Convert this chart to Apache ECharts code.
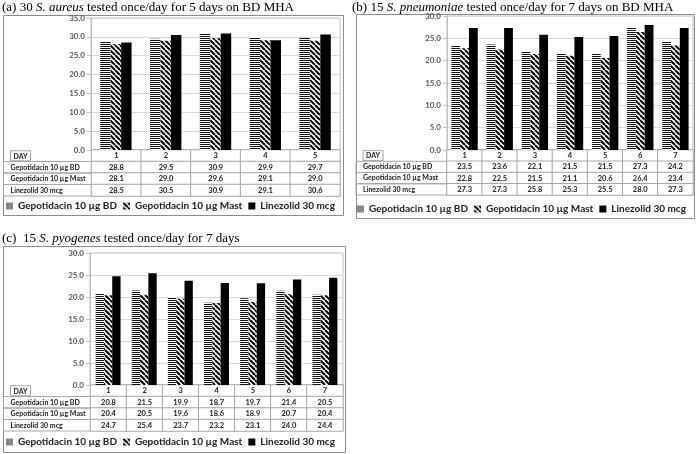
<!DOCTYPE html>
<html><head><meta charset="utf-8">
<script src="https://cdn.jsdelivr.net/npm/echarts@6/dist/echarts.min.js"></script>
<style>html,body{margin:0;padding:0;background:#fff}#c{width:696px;height:454px}</style>
</head><body><div id="c"></div>
<script>
// ---- data ----
const rowNames = ['DAY', 'Gepotidacin 10 µg BD', 'Gepotidacin 10 µg Mast', 'Linezolid 30 mcg'];
const seriesNames = ['Gepotidacin 10 µg BD', 'Gepotidacin 10 µg Mast', 'Linezolid 30 mcg'];

const daysA = ['1', '2', '3', '4', '5'];
const bdA = [28.8, 29.5, 30.9, 29.9, 29.7];
const mastA = [28.1, 29.0, 29.6, 29.1, 29.0];
const linA = [28.5, 30.5, 30.9, 29.1, 30.6];
const yMaxA = 35;

const daysB = ['1', '2', '3', '4', '5', '6', '7'];
const bdB = [23.5, 23.6, 22.1, 21.5, 21.5, 27.3, 24.2];
const mastB = [22.8, 22.5, 21.5, 21.1, 20.6, 26.4, 23.4];
const linB = [27.3, 27.3, 25.8, 25.3, 25.5, 28.0, 27.3];
const yMaxB = 30;

const daysC = ['1', '2', '3', '4', '5', '6', '7'];
const bdC = [20.8, 21.5, 19.9, 18.7, 19.7, 21.4, 20.5];
const mastC = [20.4, 20.5, 19.6, 18.6, 18.9, 20.7, 20.4];
const linC = [24.7, 25.4, 23.7, 23.2, 23.1, 24.0, 24.4];
const yMaxC = 30;

const yInterval = 5;

// ---- patterns ----
function stripeH() {
  const c = document.createElement('canvas'); c.width = 4; c.height = 2;
  const x = c.getContext('2d');
  x.fillStyle = '#fff'; x.fillRect(0, 0, 4, 2);
  x.fillStyle = '#111'; x.fillRect(0, 0, 4, 1);
  return c;
}
function stripeD() {
  const s = 5;
  const c = document.createElement('canvas'); c.width = s; c.height = s;
  const x = c.getContext('2d');
  x.fillStyle = '#fff'; x.fillRect(0, 0, s, s);
  x.strokeStyle = '#000'; x.lineWidth = 2;
  for (const o of [-s, 0, s]) { x.beginPath(); x.moveTo(o, 0); x.lineTo(o + s, s); x.stroke(); }
  return c;
}
const fills = [
  { image: stripeH(), repeat: 'repeat' },
  { image: stripeD(), repeat: 'repeat' },
  '#000'
];

const SANS = 'Lato';
const SERIF = 'Liberation Serif';
const GRID_C = '#bfbfbf';
const CELL_C = '#a6a6a6';

const panels = [
  { days: daysA, vals: [bdA, mastA, linA], max: yMaxA, x0: 3, x1: 343, y0: 15, y1: 215,
    gl: 91, gr: 340, gt: 18, g0: 150, tb: 196, barW: '21%', legTop: 201, legLeft: 6,
    title: '(a) 30 {i|S. aureus} tested once/day for 5 days on BD MHA', tLeft: 2, tTop: 1 },
  { days: daysB, vals: [bdB, mastB, linB], max: yMaxB, x0: 356, x1: 694, y0: 14, y1: 218,
    gl: 447, gr: 693, gt: 16, g0: 150, tb: 195, barW: '25%', legTop: 204, legLeft: 357,
    title: '(b) 15 {i|S. pneumoniae} tested once/day for 7 days on BD MHA', tLeft: 352, tTop: 1 },
  { days: daysC, vals: [bdC, mastC, linC], max: yMaxC, x0: 3, x1: 345, y0: 246, y1: 452,
    gl: 90, gr: 343, gt: 253, g0: 385, tb: 431, barW: '23%', legTop: 437, legLeft: 6,
    title: '(c)  15 {i|S. pyogenes} tested once/day for 7 days', tLeft: 2, tTop: 232 }
];

const option = {
  backgroundColor: '#fff',
  animation: false,
  title: [], grid: [], xAxis: [], yAxis: [], series: [], legend: [], graphic: []
};

panels.forEach((p, pi) => {
  option.title.push({
    text: p.title, left: p.tLeft, top: p.tTop, padding: 0,
    textStyle: { fontFamily: SERIF, fontSize: 13, fontWeight: 'normal', color: '#000',
      rich: { i: { fontFamily: SERIF, fontSize: 13, fontStyle: 'italic', color: '#000' } } }
  });
  option.graphic.push({
    type: 'rect', shape: { x: p.x0 + 0.5, y: p.y0 + 0.5, width: p.x1 - p.x0, height: p.y1 - p.y0 },
    style: { fill: 'none', stroke: '#8c8c8c', lineWidth: 1 }, silent: true, z: 0
  });
  const gBar = option.grid.length;
  option.grid.push({ left: p.gl, top: p.gt, width: p.gr - p.gl, height: p.g0 - p.gt,
    show: true, borderColor: GRID_C, borderWidth: 1, backgroundColor: 'transparent' });
  const gTab = option.grid.length;
  option.grid.push({ left: p.gl, top: p.g0, width: p.gr - p.gl, height: p.tb - p.g0 });

  const xBar = option.xAxis.length;
  option.xAxis.push({ type: 'category', gridIndex: gBar, data: p.days,
    axisLabel: { show: false }, axisTick: { show: false },
    axisLine: { lineStyle: { color: GRID_C } } });
  const xTab = option.xAxis.length;
  option.xAxis.push({ type: 'category', gridIndex: gTab, data: p.days,
    axisLabel: { show: false }, axisTick: { show: false }, axisLine: { show: false } });

  const yBar = option.yAxis.length;
  option.yAxis.push({ type: 'value', gridIndex: gBar, min: 0, max: p.max, interval: yInterval,
    axisLabel: { formatter: v => v.toFixed(1), fontSize: 8, fontWeight: 'bold', color: '#595959',
      fontFamily: SANS, margin: 6 },
    axisLine: { show: true, lineStyle: { color: GRID_C } },
    axisTick: { show: true, length: 4, lineStyle: { color: GRID_C } },
    splitLine: { lineStyle: { color: '#d9d9d9' } } });
  const rowH = (p.tb - p.g0) / rowNames.length;
  const yTab = option.yAxis.length;
  option.yAxis.push({ type: 'category', gridIndex: gTab, data: rowNames, inverse: true,
    axisLine: { show: false }, axisTick: { show: false },
    axisLabel: { interval: 0, hideOverlap: false, align: 'left', margin: p.gl - p.x0,
      fontSize: 7, fontWeight: 'bold', color: '#222', fontFamily: SANS,
      formatter: (v, i) => i === 0 ? '{sp| }{d|' + v + '}' : '{r|' + v + '}',
      rich: {
        sp: { width: 7 },
        d: { fontSize: 7, fontWeight: 'bold', color: '#222', fontFamily: SANS,
          borderColor: CELL_C, borderWidth: 1, padding: [2, 3, 1, 3] },
        r: { fontSize: 7, fontWeight: 'bold', color: '#222', fontFamily: SANS,
          width: p.gl - p.x0 - 7, height: rowH, lineHeight: rowH,
          borderColor: CELL_C, borderWidth: 1, padding: [0, 0, 0, 7] }
      } } });

  seriesNames.forEach((n, si) => {
    option.series.push({ type: 'bar', name: n, xAxisIndex: xBar, yAxisIndex: yBar,
      data: p.vals[si], barWidth: p.barW, barGap: '0%', silent: true,
      itemStyle: { color: fills[si] } });
  });
  const cells = [];
  p.days.forEach((d, j) => {
    cells.push([j, 0, d]);
    p.vals.forEach((arr, si) => cells.push([j, si + 1, arr[j]]));
  });
  option.series.push({ type: 'heatmap', xAxisIndex: xTab, yAxisIndex: yTab, data: cells, silent: true,
    itemStyle: { color: '#fff', borderColor: CELL_C, borderWidth: 1 },
    label: { show: true, fontSize: 7.5, fontWeight: 'bold', color: '#222', fontFamily: SANS,
      formatter: q => q.data[1] === 0 ? String(q.data[2]) : Number(q.data[2]).toFixed(1) },
    emphasis: { disabled: true } });

  option.legend.push({ data: seriesNames, left: p.legLeft, top: p.legTop, padding: 0,
    width: 400, itemWidth: 7, itemHeight: 7, itemGap: 6, icon: 'rect', selectedMode: false,
    textStyle: { fontSize: 10, fontWeight: 'bold', color: '#222', fontFamily: SANS } });
});

const chart = echarts.init(document.getElementById('c'), null, { renderer: 'canvas' });
chart.setOption(option);
</script>
</body></html>
